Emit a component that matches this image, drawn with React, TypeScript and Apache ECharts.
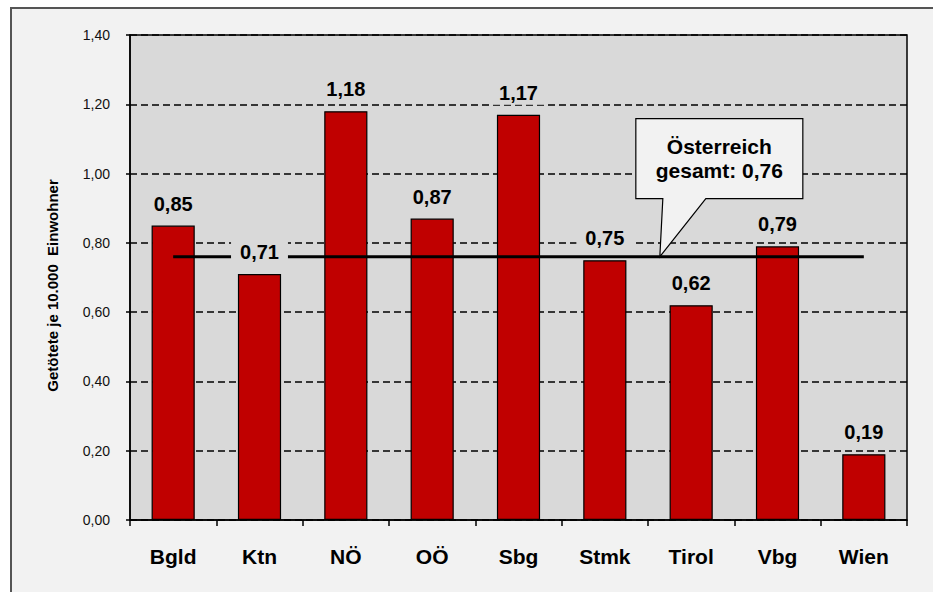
import React, { useEffect, useRef } from "react";
import * as echarts from "echarts";

const categories = ["Bgld", "Ktn", "NÖ", "OÖ", "Sbg", "Stmk", "Tirol", "Vbg", "Wien"];
const values = [0.85, 0.71, 1.18, 0.87, 1.17, 0.75, 0.62, 0.79, 0.19];
const totalValue = 0.76;
const totalLabel = "Österreich\ngesamt: 0,76";
const yAxisName = "Getötete je 10.000  Einwohner";

const FONT = "'Liberation Sans', Arial, sans-serif";
const fmt = (v: number) => v.toFixed(2).replace(".", ",");

export default function App() {
  const ref = useRef<HTMLDivElement>(null);
  useEffect(() => {
    if (!ref.current) return;
    const chart = echarts.init(ref.current, undefined, { renderer: "svg" });
    chart.setOption({
      animation: false,
      backgroundColor: "#ffffff",
      textStyle: { fontFamily: FONT },
      grid: {
        left: 130,
        top: 35,
        right: 26,
        bottom: 72,
        show: true,
        backgroundColor: "#D9D9D9",
        borderColor: "#000",
        borderWidth: 1.5,
      },
      xAxis: {
        type: "category",
        data: categories,
        axisLine: { lineStyle: { color: "#000", width: 1.5 } },
        axisTick: { show: true, length: 6, interval: 0, alignWithLabel: false, lineStyle: { color: "#000", width: 1.5 } },
        axisLabel: { fontFamily: FONT, fontSize: 21, fontWeight: "bold", color: "#000", margin: 26, interval: 0 },
      },
      yAxis: {
        type: "value",
        min: 0,
        max: 1.4,
        interval: 0.2,
        name: yAxisName,
        nameLocation: "middle",
        nameGap: 70,
        nameTextStyle: { fontFamily: FONT, fontSize: 15, fontWeight: "bold", color: "#000", padding: [0, 16, 0, 0] },
        axisLine: { show: true, lineStyle: { color: "#000", width: 1.5 } },
        axisTick: { show: true, length: 4, lineStyle: { color: "#000", width: 1.5 } },
        axisLabel: { fontFamily: FONT, fontSize: 14, color: "#111", margin: 20, formatter: (v: number) => fmt(v) },
        splitLine: { show: true, lineStyle: { color: "#000", width: 1.5, type: [7, 4] } },
      },
      series: [
        {
          type: "bar",
          data: values,
          barWidth: "50%",
          z: 2,
          itemStyle: { color: "#C00000", borderColor: "#000", borderWidth: 1.2 },
        },
        {
          type: "line",
          data: categories.map(() => totalValue),
          symbol: "none",
          z: 3,
          lineStyle: { color: "#000", width: 3 },
        },
        {
          type: "bar",
          data: values,
          barWidth: "50%",
          barGap: "-100%",
          z: 5,
          itemStyle: { color: "rgba(0,0,0,0)" },
          label: {
            show: true,
            position: "top",
            distance: 10,
            fontFamily: FONT,
            fontSize: 20,
            fontWeight: "bold",
            color: "#000",
            lineHeight: 20,
            backgroundColor: "#D9D9D9",
            padding: [2, 9],
            formatter: (p: any) => fmt(p.value),
          },
        },
      ],
    });

    const tip = chart.convertToPixel({ xAxisIndex: 0, yAxisIndex: 0 }, ["Stmk", totalValue]) as number[];
    const tx = tip[0] + 55;
    const ty = tip[1];
    const bx0 = tx - 24, bx1 = tx + 143, by0 = ty - 138, by1 = ty - 58;
    chart.setOption({
      graphic: [
        {
          type: "rect",
          z: -100,
          silent: true,
          shape: { x: 11, y: 8, width: 940, height: 620 },
          style: { fill: "#F2F2F2", stroke: "#555", lineWidth: 2 },
        },
        {
          type: "polygon",
          z: 100,
          shape: {
            points: [
              [bx0, by0], [bx1, by0], [bx1, by1], [tx + 46, by1], [tx, ty], [tx + 3, by1], [bx0, by1],
            ],
          },
          style: { fill: "#F2F2F2", stroke: "#000", lineWidth: 1.2 },
        },
        {
          type: "text",
          z: 101,
          x: (bx0 + bx1) / 2,
          y: (by0 + by1) / 2,
          style: {
            text: totalLabel,
            fontFamily: FONT,
            fontSize: 21,
            fontWeight: "bold",
            fill: "#000",
            lineHeight: 24,
            align: "center",
            verticalAlign: "middle",
          },
        },
      ],
    });
    return () => chart.dispose();
  }, []);
  return <div ref={ref} style={{ position: "absolute", left: 0, top: 0, width: 933, height: 592 }} />;
}
